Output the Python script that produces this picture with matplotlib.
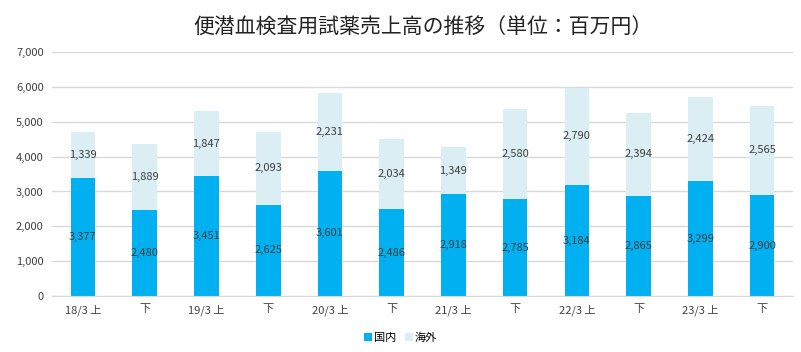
import numpy as np
import matplotlib
matplotlib.use("Agg")
import matplotlib.pyplot as plt

plt.rcParams['font.family'] = ['Noto Sans CJK JP', 'DejaVu Sans']

#data
labels = ["18/3 上", "下", "19/3 上", "下", "20/3 上", "下", "21/3 上", "下", "22/3 上", "下", "23/3 上", "下"]
domestic = [3377, 2480, 3451, 2625, 3601, 2486, 2918, 2785, 3184, 2865, 3299, 2900]
overseas = [1339, 1889, 1847, 2093, 2231, 2034, 1349, 2580, 2790, 2394, 2424, 2565]

c_dom = "#00B0F0"
c_ovs = "#DAEEF3"

fig = plt.figure(figsize=(8.01, 3.52), dpi=100)
ax = fig.add_axes([0.065, 0.159, 0.925, 0.693])

x = np.arange(len(labels))
b1 = ax.bar(x, domestic, width=0.4, color=c_dom, label="国内", zorder=2)
b2 = ax.bar(x, overseas, width=0.4, bottom=domestic, color=c_ovs, label="海外", zorder=2)

# value labels in the middle of each segment
for i in range(len(x)):
    ax.text(x[i], domestic[i] / 2, f"{domestic[i]:,}", ha="center", va="center",
            fontsize=8, color="#404040", zorder=3)
    ax.text(x[i], domestic[i] + overseas[i] / 2, f"{overseas[i]:,}", ha="center", va="center",
            fontsize=8, color="#404040", zorder=3)

ax.set_xlim(-0.5, len(labels) - 0.5)
ax.set_ylim(0, 7000)
ax.set_yticks(range(0, 7001, 1000))
ax.set_yticklabels([f"{v:,}" for v in range(0, 7001, 1000)], fontsize=8, color="#404040")
ax.set_xticks(x)
ax.set_xticklabels(labels, fontsize=8, color="#404040")
ax.tick_params(axis="both", length=0, pad=6)
ax.yaxis.grid(True, color="#d9d9d9", linewidth=1, zorder=0)
for s in ["top", "right", "left"]:
    ax.spines[s].set_visible(False)
ax.spines["bottom"].set_color("#d9d9d9")

# title centred over the plot area
fig.text(0.5275, 0.925, "便潜血検査用試薬売上高の推移（単位：百万円）", fontsize=15,
         ha="center", va="center", color="#222222")

fig.legend(handles=[b1, b2], loc="center", bbox_to_anchor=(0.5, 0.04), ncol=2, frameon=False,
           fontsize=8, handlelength=0.7, handleheight=0.7, handletextpad=0.2, columnspacing=0.8)

plt.savefig("out.png", dpi=100)
